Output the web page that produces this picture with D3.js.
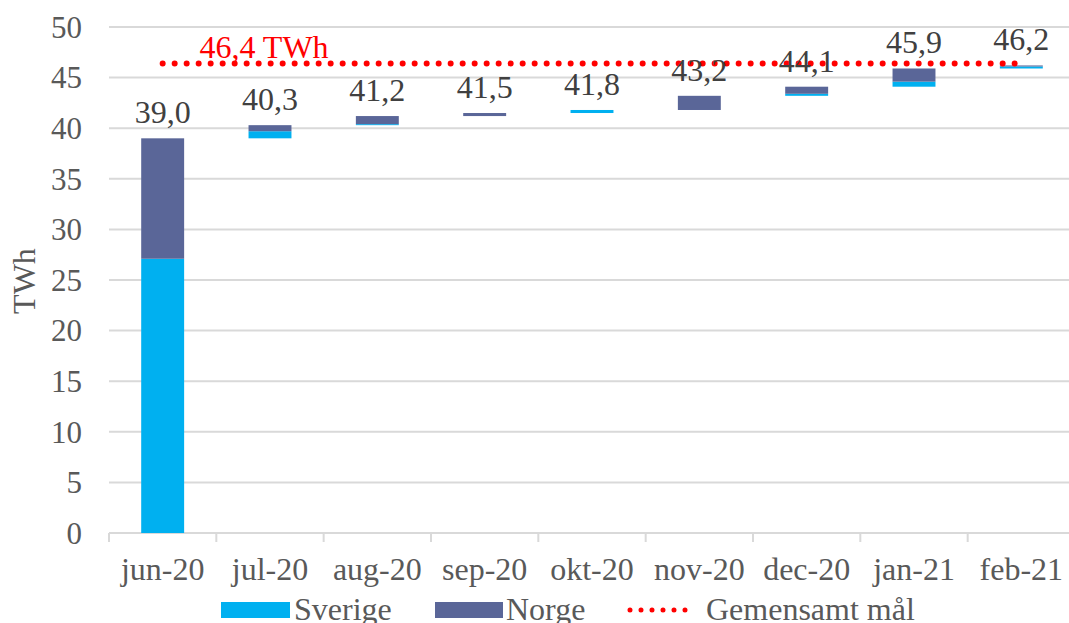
<!DOCTYPE html>
<html>
<head>
<meta charset="utf-8">
<script src="https://cdn.jsdelivr.net/npm/d3@7.9.0/dist/d3.min.js"></script>
<style>
  html, body { margin: 0; padding: 0; background: #fff; }
  svg { display: block; }
</style>
</head>
<body>
<div id="chart"></div>
<script>
// Data
const months = ['jun-20', 'jul-20', 'aug-20', 'sep-20', 'okt-20', 'nov-20', 'dec-20', 'jan-21', 'feb-21'];
const sverige = [27.1, 0.7, 0.1, 0.0, 0.3, 0.0, 0.2, 0.5, 0.2];
const norge = [11.9, 0.6, 0.8, 0.3, 0.0, 1.4, 0.7, 1.3, 0.1];
const target = 46.4;
const yTicks = [0, 5, 10, 15, 20, 25, 30, 35, 40, 45, 50];

const W = 1069, H = 623;
const FONT = '"Liberation Serif", "Times New Roman", serif';
const FS = '31px';
const SVERIGE_COLOR = '#00b0f0';
const NORGE_COLOR = '#5a6698';
const GRID_COLOR = '#d9d9d9';
const LABEL_COLOR = '#404040';

const margin = { left: 109, right: -6, top: 27, bottom: 90 };

const svg = d3.select('#chart')
  .append('svg')
  .attr('width', W)
  .attr('height', H)
  .attr('viewBox', `0 0 ${W} ${H}`);

const x = d3.scaleBand()
  .domain(months)
  .range([margin.left, W - margin.right])
  .paddingInner(0.6)
  .paddingOuter(0.3);

const y = d3.scaleLinear()
  .domain([0, 50])
  .range([H - margin.bottom, margin.top]);

// waterfall: each month starts where previous total ended
let running = 0;
const rows = months.map((m, i) => {
  const base = running;
  const sv = [base, base + sverige[i]];
  const no = [sv[1], sv[1] + norge[i]];
  running = no[1];
  return { month: m, sv, no, total: running };
});

// Gridlines
svg.append('g')
  .selectAll('line')
  .data(yTicks.filter(d => d > 0))
  .join('line')
  .attr('x1', margin.left)
  .attr('x2', W)
  .attr('y1', d => y(d))
  .attr('y2', d => y(d))
  .attr('stroke', GRID_COLOR)
  .attr('stroke-width', 2);

// Y tick labels
svg.append('g')
  .selectAll('text')
  .data(yTicks)
  .join('text')
  .attr('x', 82)
  .attr('y', d => y(d))
  .attr('dy', '0.35em')
  .attr('text-anchor', 'end')
  .attr('fill', '#595959')
  .attr('font-family', FONT)
  .attr('font-size', FS)
  .text(d => d);

// Y title
svg.append('text')
  .attr('transform', `translate(35, 281) rotate(-90)`)
  .attr('text-anchor', 'middle')
  .attr('fill', '#595959')
  .attr('font-family', FONT)
  .attr('font-size', '32px')
  .text('TWh');

// X axis line and ticks
svg.append('line')
  .attr('x1', margin.left)
  .attr('x2', W)
  .attr('y1', y(0))
  .attr('y2', y(0))
  .attr('stroke', GRID_COLOR)
  .attr('stroke-width', 2);

const step = x.step();
svg.append('g')
  .selectAll('line')
  .data(months)
  .join('line')
  .attr('x1', d => x(d) + x.bandwidth() / 2 - step / 2)
  .attr('x2', d => x(d) + x.bandwidth() / 2 - step / 2)
  .attr('y1', y(0))
  .attr('y2', y(0) + 9)
  .attr('stroke', GRID_COLOR)
  .attr('stroke-width', 2);

svg.append('g')
  .selectAll('text')
  .data(months)
  .join('text')
  .attr('x', d => x(d) + x.bandwidth() / 2)
  .attr('y', 580)
  .attr('text-anchor', 'middle')
  .attr('fill', '#595959')
  .attr('font-family', FONT)
  .attr('font-size', '32px')
  .text(d => d);

// Bars
const bars = svg.append('g');
bars.selectAll('rect.sv')
  .data(rows)
  .join('rect')
  .attr('class', 'sv')
  .attr('x', d => x(d.month))
  .attr('width', x.bandwidth())
  .attr('y', d => y(d.sv[1]))
  .attr('height', d => y(d.sv[0]) - y(d.sv[1]))
  .attr('fill', SVERIGE_COLOR);

bars.selectAll('rect.no')
  .data(rows)
  .join('rect')
  .attr('class', 'no')
  .attr('x', d => x(d.month))
  .attr('width', x.bandwidth())
  .attr('y', d => y(d.no[1]))
  .attr('height', d => y(d.no[0]) - y(d.no[1]))
  .attr('fill', NORGE_COLOR);

// Target line (dotted)
const first = months[0], last = months[months.length - 1];
svg.append('line')
  .attr('x1', x(first) + x.bandwidth() / 2)
  .attr('x2', x(last) + x.bandwidth() / 2)
  .attr('y1', y(target))
  .attr('y2', y(target))
  .attr('stroke', '#ff0000')
  .attr('stroke-width', 6)
  .attr('stroke-linecap', 'round')
  .attr('stroke-dasharray', '0 12');

svg.append('text')
  .attr('x', x(months[1]) + x.bandwidth() / 2 - 6)
  .attr('y', y(target) - 5)
  .attr('text-anchor', 'middle')
  .attr('fill', '#ff0000')
  .attr('font-family', FONT)
  .attr('font-size', '32px')
  .text(`${d3.format('.1f')(target).replace('.', ',')} TWh`);

// Total labels
svg.append('g')
  .selectAll('text')
  .data(rows)
  .join('text')
  .attr('x', d => x(d.month) + x.bandwidth() / 2)
  .attr('y', d => y(d.total) - 15)
  .attr('text-anchor', 'middle')
  .attr('fill', LABEL_COLOR)
  .attr('font-family', FONT)
  .attr('font-size', '32px')
  .text(d => d3.format('.1f')(d.total).replace('.', ','));

// Legend
const legend = svg.append('g').attr('font-family', FONT).attr('font-size', '32px').attr('fill', '#595959');
const legendY = 609;
legend.append('rect').attr('x', 221).attr('y', legendY - 7).attr('width', 69).attr('height', 16).attr('fill', SVERIGE_COLOR);
legend.append('text').attr('x', 294).attr('y', legendY + 11).text('Sverige');
legend.append('rect').attr('x', 435).attr('y', legendY - 7).attr('width', 68).attr('height', 16).attr('fill', NORGE_COLOR);
legend.append('text').attr('x', 506).attr('y', legendY + 11).text('Norge');
legend.append('line')
  .attr('x1', 630).attr('x2', 695)
  .attr('y1', legendY + 1).attr('y2', legendY + 1)
  .attr('stroke', '#ff0000')
  .attr('stroke-width', 5)
  .attr('stroke-linecap', 'round')
  .attr('stroke-dasharray', '0 11');
legend.append('text').attr('x', 706).attr('y', legendY + 11).text('Gemensamt mål');
</script>
</body>
</html>
